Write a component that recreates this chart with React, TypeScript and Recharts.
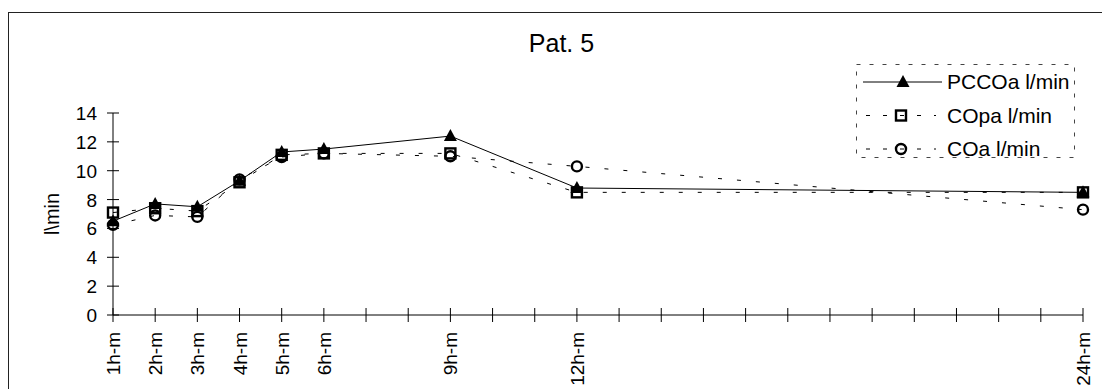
import { LineChart, Line, XAxis, YAxis, Legend, Label } from 'recharts'

// sampling hours (x) and the three cardiac output series, l/min
const hours = [1, 2, 3, 4, 5, 6, 9, 12, 24]
const hourTicks = [1, 2, 3, 4, 5, 6, 7, 8, 9, 10, 11, 12, 13, 14, 15, 16, 17, 18, 19, 20, 21, 22, 23, 24]
const yTicks = [0, 2, 4, 6, 8, 10, 12, 14]
const pccoa = [6.5, 7.7, 7.5, 9.3, 11.3, 11.5, 12.4, 8.8, 8.5]
const copa = [7.1, 7.4, 7.2, 9.2, 11.1, 11.2, 11.2, 8.5, 8.5]
const coa = [6.25, 6.9, 6.8, 9.4, 10.95, 11.2, 11.0, 10.3, 7.3]
const names = ['PCCOa l/min', 'COpa l/min', 'COa l/min']

const data = hours.map((h, i) => ({ hour: h, pccoa: pccoa[i], copa: copa[i], coa: coa[i] }))

const FONT = '"Liberation Sans", Arial, sans-serif'
const DASH = '4 15'

const triangleDot = (p: any) => (
  <path key={'t' + p.index} d={`M${p.cx},${p.cy - 7}L${p.cx + 6.5},${p.cy + 5}L${p.cx - 6.5},${p.cy + 5}Z`} fill="#000" />
)
const squareDot = (p: any) => (
  <rect key={'s' + p.index} x={p.cx - 5} y={p.cy - 5} width={10} height={10} fill="none" stroke="#000" strokeWidth={2.4} />
)
const circleDot = (p: any) => (
  <circle key={'c' + p.index} cx={p.cx} cy={p.cy} r={5} fill="none" stroke="#000" strokeWidth={2.4} />
)
const dots: Record<string, (p: any) => any> = { pccoa: triangleDot, copa: squareDot, coa: circleDot }

const XTick = (p: any) => {
  const { x, y, payload } = p
  const label = hours.includes(payload.value) ? `${payload.value}h-m` : ''
  return (
    <g>
      <line x1={x} x2={x} y1={y - 7} y2={y + 7} stroke="#000" />
      {label && (
        <text transform={`translate(${x},${y + 17}) rotate(-90)`} dy={7} textAnchor="end" fontSize={19} fontFamily={FONT} fill="#000">
          {label}
        </text>
      )}
    </g>
  )
}

const YTick = (p: any) => {
  const { x, y, payload } = p
  return (
    <g>
      <line x1={x - 6} x2={x + 6} y1={y} y2={y} stroke="#000" />
      <text x={x - 16} y={y} dy={7} textAnchor="end" fontSize={19} fontFamily={FONT} fill="#000">
        {payload.value}
      </text>
    </g>
  )
}

const yLabel = (p: any) => {
  const vb = p.viewBox
  return (
    <text transform={`translate(${vb.x + 43},${vb.y + vb.height / 2}) rotate(-90)`} dy={7} textAnchor="middle" fontSize={20} fontFamily={FONT} fill="#000">
      l\min
    </text>
  )
}

const renderLegend = (props: any) => {
  const rows = [...(props.payload || [])].sort((a: any, b: any) => names.indexOf(a.value) - names.indexOf(b.value))
  return (
    <svg width={219} height={94} style={{ display: 'block', overflow: 'visible' }}>
      <rect x={0.5} y={0.5} width={218} height={93} fill="none" stroke="#444" strokeDasharray="4 9" />
      {rows.map((entry: any, i: number) => {
        const y = 18 + i * 33.5
        const key = entry.dataKey as string
        const dashed = key !== 'pccoa'
        return (
          <g key={key}>
            {dashed ? (
              <line x1={10} x2={80} y1={y} y2={y} stroke="#000" strokeDasharray="4 13" />
            ) : (
              <line x1={7} x2={86} y1={y} y2={y} stroke="#000" />
            )}
            {dots[key]({ cx: dashed ? 45 : 47, cy: y, index: i })}
            <text x={91} y={y} dy={7} fontSize={21} fontFamily={FONT} fill="#000">
              {entry.value}
            </text>
          </g>
        )
      })}
    </svg>
  )
}

export default function App() {
  return (
    <>
      <style>{'body{margin:0;overflow:hidden}'}</style>
      <div
        style={{
          position: 'relative',
          marginLeft: 8,
          marginTop: 12,
          width: 1094,
          height: 377,
          borderLeft: '1px solid #222',
          borderTop: '1px solid #222',
          overflow: 'hidden',
          fontFamily: FONT,
        }}
      >
        <div style={{ position: 'absolute', left: 452.5, top: 18, width: 200, textAlign: 'center', fontSize: 25, lineHeight: '25px' }}>
          Pat. 5
        </div>
        <LineChart width={1094} height={377} data={data} margin={{ top: 100, right: 20, left: 0, bottom: 0 }}>
          <XAxis
            type="number"
            dataKey="hour"
            domain={[1, 24]}
            ticks={hourTicks}
            interval={0}
            height={75}
            tickSize={0}
            tickMargin={0}
            tickLine={false}
            axisLine={{ stroke: '#000' }}
            tick={<XTick />}
          />
          <YAxis
            domain={[0, 14]}
            ticks={yTicks}
            interval={0}
            width={104}
            tickSize={0}
            tickMargin={0}
            tickLine={false}
            axisLine={{ stroke: '#000' }}
            tick={<YTick />}
          >
            <Label content={yLabel} />
          </YAxis>
          <Legend
            layout="vertical"
            align="center"
            verticalAlign="middle"
            content={renderLegend}
            wrapperStyle={{ left: 847, top: 51, width: 219, height: 94 }}
          />
          <Line type="linear" dataKey="pccoa" name={names[0]} stroke="#000" strokeWidth={1} dot={triangleDot} activeDot={false} isAnimationActive={false} />
          <Line type="linear" dataKey="copa" name={names[1]} stroke="#000" strokeWidth={1} strokeDasharray={DASH} dot={squareDot} activeDot={false} isAnimationActive={false} />
          <Line type="linear" dataKey="coa" name={names[2]} stroke="#000" strokeWidth={1} strokeDasharray={DASH} dot={circleDot} activeDot={false} isAnimationActive={false} />
        </LineChart>
      </div>
    </>
  )
}
